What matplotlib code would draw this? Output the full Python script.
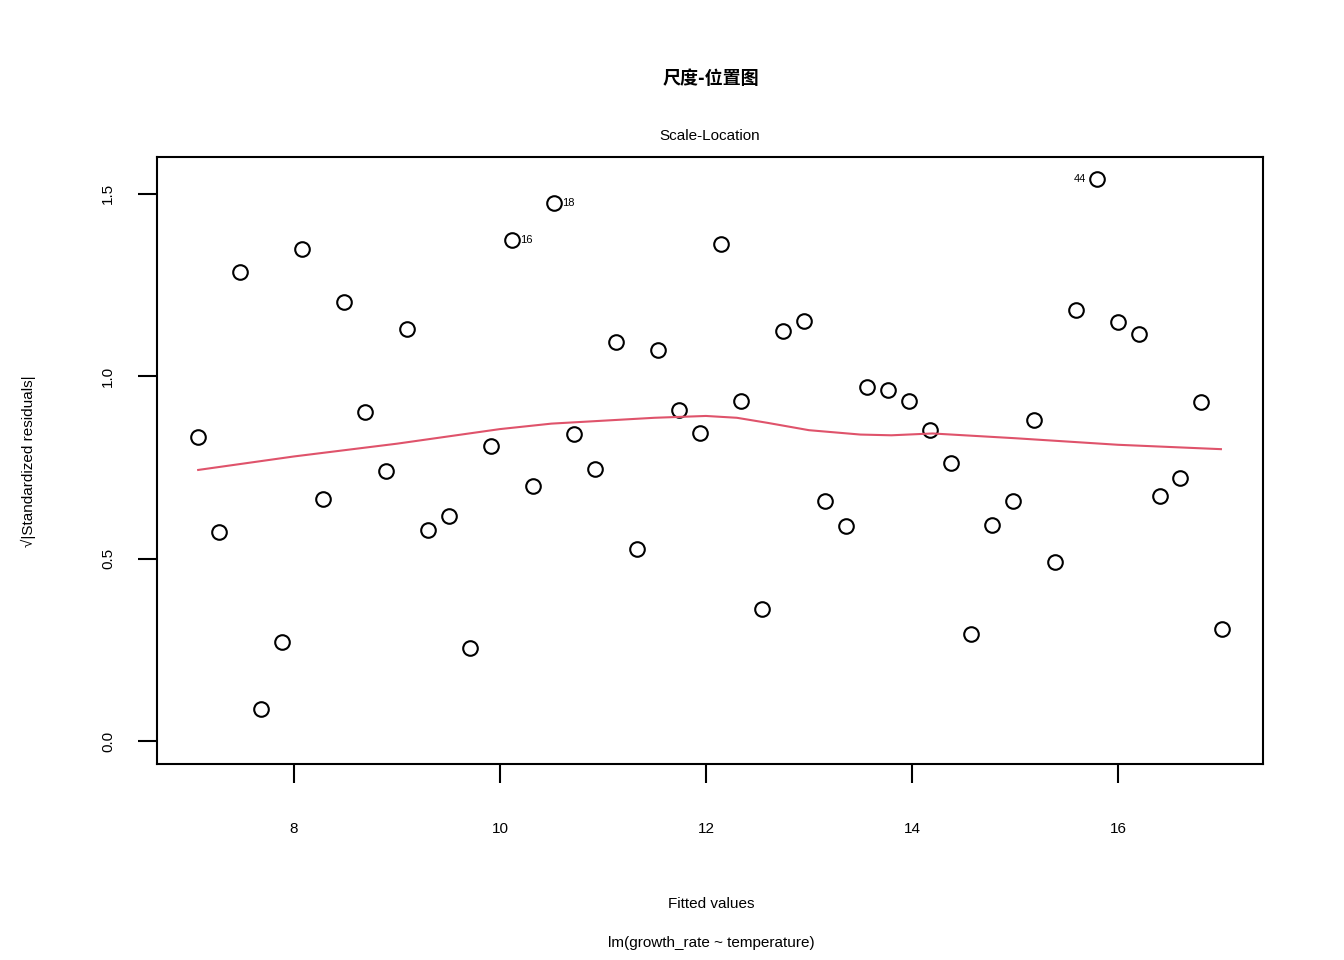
import matplotlib
matplotlib.use("Agg")
import matplotlib.pyplot as plt

plt.rcParams['font.family'] = ['Liberation Sans', 'Noto Sans CJK SC', 'DejaVu Sans']

fitted = [7.068, 7.272, 7.476, 7.680, 7.883, 8.078, 8.282, 8.485, 8.689, 8.893,
          9.097, 9.301, 9.505, 9.709, 9.913, 10.117, 10.320, 10.524, 10.718, 10.922,
          11.126, 11.330, 11.534, 11.738, 11.942, 12.146, 12.340, 12.544, 12.748, 12.951,
          13.155, 13.359, 13.563, 13.767, 13.971, 14.175, 14.379, 14.573, 14.777, 14.981,
          15.184, 15.388, 15.592, 15.796, 16.000, 16.204, 16.408, 16.602, 16.806, 17.010]
sqrt_std_resid = [0.834, 0.573, 1.286, 0.088, 0.271, 1.349, 0.664, 1.204, 0.902, 0.740,
                  1.130, 0.579, 0.617, 0.255, 0.809, 1.374, 0.699, 1.475, 0.842, 0.746,
                  1.094, 0.527, 1.072, 0.908, 0.845, 1.363, 0.932, 0.362, 1.124, 1.152,
                  0.658, 0.590, 0.971, 0.963, 0.932, 0.853, 0.762, 0.293, 0.592, 0.658,
                  0.880, 0.491, 1.182, 1.541, 1.149, 1.116, 0.672, 0.721, 0.930, 0.307]

smooth_x = [7.07, 8.0, 9.0, 10.0, 10.5, 11.0, 11.5, 12.0, 12.3, 12.6, 13.0, 13.5, 13.8, 14.2, 15.0, 16.0, 17.0]
smooth_y = [0.743, 0.78, 0.815, 0.855, 0.870, 0.878, 0.886, 0.891, 0.886, 0.872, 0.852, 0.840, 0.838, 0.843, 0.830, 0.812, 0.800]

labelled = [16, 18, 44]

fig = plt.figure(figsize=(13.44, 9.6), dpi=100)
ax = fig.add_axes([0.1168, 0.2042, 0.8229, 0.6323])

ax.plot(fitted, sqrt_std_resid, 'o', mfc='none', mec='black', ms=10.5, mew=1.5)
ax.plot(smooth_x, smooth_y, color='#DF536B', lw=1.5)

for idx in labelled:
    x, y = fitted[idx - 1], sqrt_std_resid[idx - 1]
    if idx == 44:
        ax.annotate(str(idx), (x, y), xytext=(-8, 0), textcoords='offset points',
                    fontsize=8, va='center', ha='right')
    else:
        ax.annotate(str(idx), (x, y), xytext=(6, 0), textcoords='offset points',
                    fontsize=8, va='center', ha='left')

ax.set_xlim(6.670, 17.408)
ax.set_ylim(-0.063, 1.601)
ax.set_xticks([8, 10, 12, 14, 16])
ax.set_yticks([0.0, 0.5, 1.0, 1.5])
ax.set_yticklabels(['0.0', '0.5', '1.0', '1.5'], rotation=90, va='center')
ax.tick_params(axis='x', length=14, width=1.5, pad=28, labelsize=11)
ax.tick_params(axis='y', length=14, width=1.5, pad=16, labelsize=11)
for s in ax.spines.values():
    s.set_linewidth(1.5)

ax.set_title('Scale-Location', fontsize=11, pad=12)
fig.text(0.529, 0.058, 'Fitted values', ha='center', va='center', fontsize=11)
fig.text(0.021, 0.52, '√|Standardized residuals|', ha='center', va='center',
         fontsize=11, rotation=90)
fig.text(0.529, 0.918, '尺度-位置图', ha='center', va='center', fontsize=13,
         fontweight='bold', family=['Noto Sans CJK SC', 'DejaVu Sans'])
fig.text(0.529, 0.018, 'lm(growth_rate ~ temperature)', ha='center', va='center', fontsize=11)

fig.savefig('out.png', dpi=100)
